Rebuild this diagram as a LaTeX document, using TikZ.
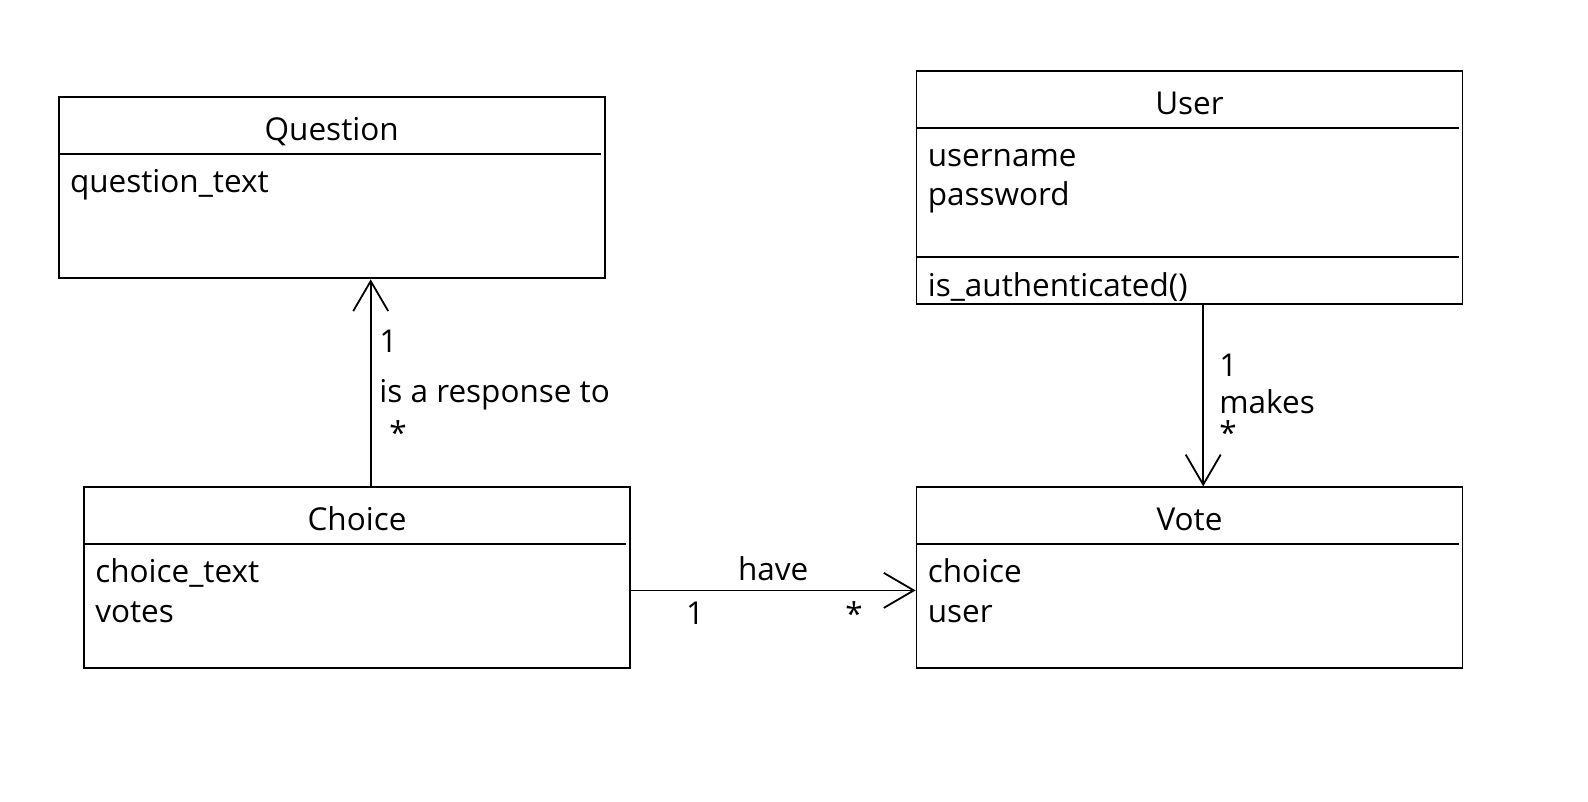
\documentclass[tikz,border=0pt]{standalone}
\usepackage{fontspec}
\setmainfont{Open Sans}
\usetikzlibrary{arrows.meta}
\newcommand{\umlsize}{\fontsize{31.5}{39.5}\selectfont}

\begin{document}
\begin{tikzpicture}[
  x=1pt, y=-1pt,
  every node/.style={font=\umlsize},
  classbox/.style={rectangle, draw, line width=1.8pt, minimum width=546pt, minimum height=181pt, inner sep=0pt},
  classname/.style={anchor=base, inner sep=0pt},
  members/.style={anchor=base west, align=left, inner sep=0pt},
  divider/.style={line width=1.8pt},
  assoc/.style={-{Straight Barb[length=30pt, width=35pt]}, line width=1.8pt},
  mult/.style={inner sep=0pt},
]
\fill[white] (0,0) rectangle (1588,802);

% Row 1: Question
\node[classbox] (question) at (331.7, 187.9) {};
\node[classname] (questionname) at ([yshift=-44.5pt]question.north) {Question};
\draw[divider] ([yshift=-57.8pt]question.north west) -- ++(543,0);
\node[members] (questionattrs) at ([xshift=12pt, yshift=-96.5pt]question.north west) {question\_text};

% Row 1: User (two lines, base is the last line)
\node[classbox, minimum height=233pt] (user) at (1189.5, 187.4) {};
\node[classname] (username) at ([yshift=-44.5pt]user.north) {User};
\draw[divider] ([yshift=-57.7pt]user.north west) -- ++(543,0);
\node[members] (userattrs) at ([xshift=12pt, yshift=-136pt]user.north west) {username\\password};
\draw[divider] ([yshift=-187.4pt]user.north west) -- ++(543,0);
\node[members] (usermethods) at ([xshift=12pt, yshift=-226.5pt]user.north west) {is\_authenticated()};

% Row 2: Choice
\node[classbox] (choice) at (357, 577.8) {};
\node[classname] (choicename) at ([yshift=-44.5pt]choice.north) {Choice};
\draw[divider] ([yshift=-57.8pt]choice.north west) -- ++(543,0);
\node[members] (choiceattrs) at ([xshift=12pt, yshift=-136pt]choice.north west) {choice\_text\\votes};

% Row 2: Vote
\node[classbox] (vote) at (1189.5, 577.8) {};
\node[classname] (votename) at ([yshift=-44.5pt]vote.north) {Vote};
\draw[divider] ([yshift=-57.8pt]vote.north west) -- ++(543,0);
\node[members] (voteattrs) at ([xshift=12pt, yshift=-136pt]vote.north west) {choice\\user};

% Associations
\draw[assoc] ([xshift=13.7pt]choice.north) -- ([xshift=13.7pt]choice.north |- question.south)
  node[mult, pos=0.645, anchor=base west, xshift=7.8pt] (resp1) {1}
  node[mult, pos=0.405, anchor=base west, xshift=7.8pt] (resplabel) {is a response to}
  node[mult, pos=0.2, anchor=base, xshift=27.3pt] (respstar) {*};
\draw[assoc] ([xshift=13.7pt]user.south) -- ([xshift=13.7pt]user.south |- vote.north)
  node[mult, pos=0.394, anchor=base west, xshift=15.3pt] (makes1) {1}
  node[mult, pos=0.6, anchor=base west, xshift=15.3pt] (makeslabel) {makes}
  node[mult, pos=0.772, anchor=base west, xshift=15.3pt] (makesstar) {*};
\draw[assoc] ([yshift=-12.6pt]choice.east) -- ([yshift=-12.6pt]choice.east -| vote.west)
  node[mult, midway, anchor=base, yshift=10.4pt] (havelabel) {have}
  node[mult, pos=0.226, anchor=base, yshift=-33.6pt] (have1) {1}
  node[mult, pos=0.784, anchor=base, yshift=-35pt] (havestar) {*};

\end{tikzpicture}
\end{document}
